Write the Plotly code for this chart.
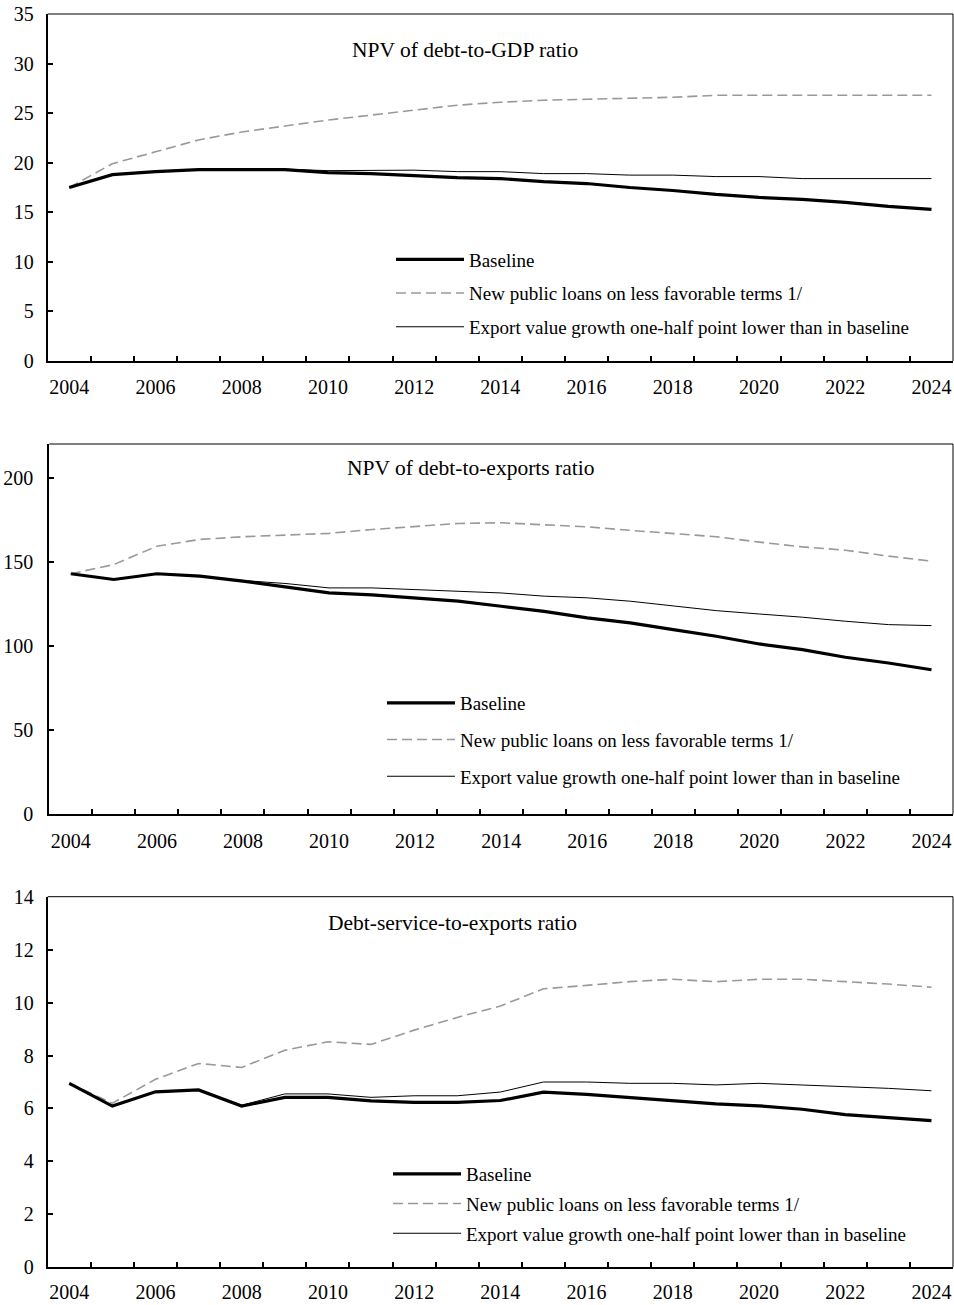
import plotly.graph_objects as go

years = list(range(2004, 2025))

# Panel 1: NPV of debt-to-GDP ratio
gdp_baseline = [17.5, 18.8, 19.1, 19.3, 19.3, 19.3, 19.0, 18.9, 18.7, 18.5, 18.4, 18.1, 17.9, 17.5, 17.2, 16.8, 16.5, 16.3, 16.0, 15.6, 15.3]
gdp_loans = [17.5, 19.9, 21.1, 22.3, 23.1, 23.7, 24.3, 24.8, 25.3, 25.8, 26.1, 26.3, 26.4, 26.5, 26.6, 26.8, 26.8, 26.8, 26.8, 26.8, 26.8]
gdp_export = [17.5, 18.8, 19.1, 19.3, 19.3, 19.35, 19.2, 19.25, 19.25, 19.1, 19.1, 18.9, 18.9, 18.75, 18.75, 18.6, 18.6, 18.4, 18.4, 18.4, 18.4]

# Panel 2: NPV of debt-to-exports ratio
exp_baseline = [142.9, 139.5, 142.9, 141.5, 138.5, 134.9, 131.5, 130.4, 128.6, 126.6, 123.6, 120.6, 116.7, 113.7, 109.7, 105.8, 101.2, 97.8, 93.3, 89.9, 85.9]
exp_loans = [142.9, 148.4, 159.3, 163.3, 164.9, 166.1, 166.9, 169.2, 170.8, 172.8, 173.2, 171.8, 170.8, 168.7, 166.9, 164.9, 161.7, 158.9, 156.9, 153.4, 150.4]
exp_export = [142.9, 139.5, 142.9, 141.5, 138.9, 137.1, 134.5, 134.5, 133.5, 132.5, 131.5, 129.6, 128.6, 126.6, 123.6, 121.0, 119.0, 117.1, 114.7, 112.7, 112.1]

# Panel 3: Debt-service-to-exports ratio
ds_baseline = [6.95, 6.09, 6.63, 6.70, 6.09, 6.42, 6.42, 6.29, 6.23, 6.23, 6.30, 6.62, 6.53, 6.42, 6.29, 6.17, 6.10, 5.97, 5.77, 5.65, 5.54]
ds_loans = [6.95, 6.20, 7.10, 7.70, 7.55, 8.20, 8.52, 8.42, 8.96, 9.44, 9.87, 10.52, 10.65, 10.79, 10.88, 10.79, 10.88, 10.88, 10.79, 10.70, 10.58]
ds_export = [6.95, 6.09, 6.63, 6.70, 6.12, 6.55, 6.55, 6.42, 6.48, 6.48, 6.62, 7.00, 7.00, 6.95, 6.95, 6.89, 6.95, 6.89, 6.82, 6.76, 6.67]

series_names = ["Baseline", "New public loans on less favorable terms 1/",
                "Export value growth one-half point lower than in baseline"]
panel_titles = ["NPV of debt-to-GDP ratio", "NPV of debt-to-exports ratio",
                "Debt-service-to-exports ratio"]
xtick_labels = [str(y) for y in range(2004, 2025, 2)]

FONT = "Liberation Serif"
W, H = 954, 1305

panels = [
    dict(data=[gdp_baseline, gdp_loans, gdp_export], yrange=[0, 35], dtick=5,
         x0=47.7, x1=953, top=14, bottom=361, title_x=350, title_y=50,
         leg_x=391, leg_y=240.5, gap=6, xstand=7, ystand=8),
    dict(data=[exp_baseline, exp_loans, exp_export], yrange=[0, 220], dtick=50,
         x0=49.3, x1=953, top=444, bottom=814.3, title_x=345, title_y=468,
         leg_x=382, leg_y=684, gap=9, xstand=8, ystand=10),
    dict(data=[ds_baseline, ds_loans, ds_export], yrange=[0, 14], dtick=2,
         x0=47.7, x1=953, top=896.7, bottom=1267.3, title_x=326, title_y=922.7,
         leg_x=388, leg_y=1155, gap=2, xstand=6, ystand=8),
]

styles = [
    dict(color="black", width=3.2),
    dict(color="#999999", width=1.6, dash="10px,5px"),
    dict(color="black", width=1),
]

fig = go.Figure()
for i, p in enumerate(panels):
    n = i + 1
    xa = "x" if n == 1 else f"x{n}"
    ya = "y" if n == 1 else f"y{n}"
    leg = "legend" if n == 1 else f"legend{n}"
    for k in [2, 1, 0]:
        fig.add_trace(go.Scatter(
            x=years, y=p["data"][k], mode="lines", name=series_names[k],
            line=styles[k], xaxis=xa, yaxis=ya, legend=leg,
            legendgroup=f"p{n}s{k}", legendrank=k + 1, showlegend=True,
            hoverinfo="skip",
        ))
    xdom = [p["x0"] / W, p["x1"] / W]
    ydom = [(H - p["bottom"]) / H, (H - p["top"]) / H]
    xkey = "xaxis" if n == 1 else f"xaxis{n}"
    ykey = "yaxis" if n == 1 else f"yaxis{n}"
    fig.layout[xkey] = dict(
        domain=xdom, range=[2003.5, 2024.5], anchor=ya, automargin=False,
        tickmode="array", tickvals=list(range(2004, 2025, 2)), ticktext=xtick_labels,
        ticks="", showgrid=False, zeroline=False,
        showline=True, linecolor="black", linewidth=2,
        tickfont=dict(family=FONT, size=20, color="black"),
        ticklabelstandoff=p["xstand"],
        minor=dict(tickmode="array", tickvals=[y + 0.5 for y in range(2004, 2024)],
                   ticks="inside", ticklen=5, tickwidth=1.5, tickcolor="black",
                   showgrid=False),
    )
    fig.layout[ykey] = dict(
        domain=ydom, range=p["yrange"], anchor=xa, automargin=False,
        tickmode="linear", tick0=0, dtick=p["dtick"],
        ticks="inside", ticklen=5, tickwidth=1.5, tickcolor="black",
        showgrid=False, zeroline=False,
        showline=True, linecolor="black", linewidth=2,
        tickfont=dict(family=FONT, size=20, color="black"),
        ticklabelstandoff=p["ystand"],
    )
    # thin top and right frame lines
    fig.add_shape(type="line", xref=f"{xa} domain", yref=f"{ya} domain",
                  x0=0, x1=1, y0=1, y1=1, line=dict(color="black", width=1))
    fig.add_shape(type="line", xref=f"{xa} domain", yref=f"{ya} domain",
                  x0=1, x1=1, y0=0, y1=1, line=dict(color="black", width=1))
    fig.add_annotation(text=panel_titles[i], xref="paper", yref="paper",
                       x=p["title_x"] / W, y=(H - p["title_y"]) / H,
                       xanchor="left", yanchor="middle", showarrow=False,
                       font=dict(family=FONT, size=21.5, color="black"))
    fig.layout[leg] = dict(
        x=p["leg_x"] / W, y=(H - p["leg_y"]) / H, xanchor="left", yanchor="top",
        bgcolor="rgba(0,0,0,0)", borderwidth=0, itemwidth=68,
        font=dict(family=FONT, size=19, color="black"),
        tracegroupgap=p["gap"], traceorder="grouped",
    )

fig.update_layout(
    template="none",
    width=W, height=H, margin=dict(l=0, r=0, t=0, b=0, autoexpand=False),
    paper_bgcolor="white", plot_bgcolor="white",
    font=dict(family=FONT, color="black"),
)

fig.write_html("out.html", config={"displayModeBar": False},
               post_script="document.body.style.margin='0';document.body.style.overflow='hidden';")
